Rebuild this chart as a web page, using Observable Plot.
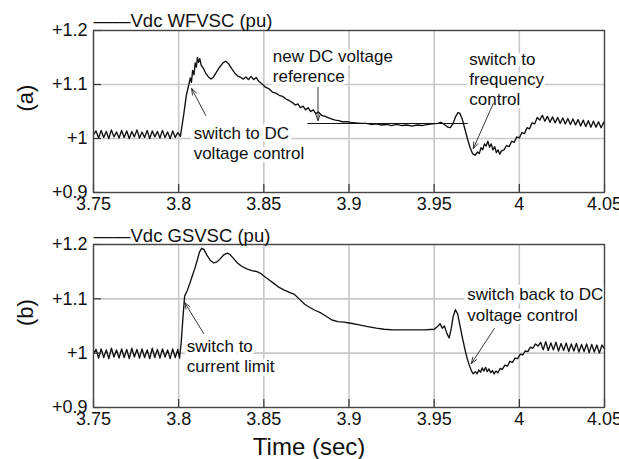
<!DOCTYPE html>
<html><head><meta charset="utf-8">
<script src="https://cdn.jsdelivr.net/npm/d3@7"></script>
<script src="https://cdn.jsdelivr.net/npm/@observablehq/plot@0.6"></script>
<style>
body{margin:0;background:#fff;}
#wrap{position:relative;width:619px;height:459px;overflow:hidden;background:#fff;}
#wrap svg{position:absolute;left:0;}
</style></head><body><div id="wrap"></div>
<script>
// ---- data (time in s, voltage in pu) ----
const xTicks = [3.75, 3.8, 3.85, 3.9, 3.95, 4, 4.05];
const yTicks = [0.9, 1.0, 1.1, 1.2];
const xLabel = "Time (sec)";

const wfLabel = "——Vdc WFVSC (pu)";
const wfTag = "(a)";
const wfVoltage = [
 [3.7500,1.007],[3.7515,1.014],[3.7530,1.001],[3.7545,1.015],[3.7560,1.002],[3.7575,1.013],[3.7590,1.000],[3.7605,1.016],[3.7620,1.003],[3.7635,1.012],[3.7650,1.001],[3.7665,1.015],[3.7680,1.002],[3.7695,1.014],[3.7710,1.000],[3.7725,1.013],[3.7740,1.003],[3.7755,1.016],[3.7770,1.001],[3.7785,1.012],[3.7800,1.002],[3.7815,1.015],[3.7830,1.000],[3.7845,1.014],[3.7860,1.003],[3.7875,1.013],[3.7890,1.001],[3.7905,1.015],[3.7920,1.002],[3.7935,1.012],[3.7950,1.000],[3.7965,1.014],[3.7980,1.002],[3.7995,1.011],[3.8010,1.004],
 [3.8030,1.045],[3.8045,1.080],[3.8060,1.100],[3.8068,1.112],[3.8075,1.104],[3.8082,1.126],[3.8090,1.118],[3.8097,1.140],[3.8104,1.132],[3.8110,1.150],[3.8117,1.141],[3.8124,1.148],[3.8132,1.136],[3.8145,1.130],[3.8160,1.120],[3.8175,1.114],[3.8190,1.110],[3.8205,1.114],[3.8220,1.122],[3.8240,1.132],[3.8260,1.140],[3.8276,1.143],[3.8292,1.139],[3.8310,1.130],[3.8330,1.121],[3.8350,1.115],[3.8365,1.113],[3.8380,1.110],[3.8395,1.114],[3.8410,1.109],[3.8425,1.115],[3.8440,1.109],[3.8455,1.113],[3.8470,1.106],[3.8490,1.101],[3.8510,1.095],[3.8530,1.092],[3.8550,1.086],[3.8570,1.084],[3.8590,1.080],[3.8610,1.078],[3.8630,1.073],[3.8650,1.070],[3.8670,1.066],[3.8685,1.062],[3.8700,1.064],[3.8715,1.057],[3.8730,1.060],[3.8745,1.053],[3.8760,1.057],[3.8775,1.050],[3.8790,1.053],[3.8805,1.046],[3.8820,1.049],[3.8840,1.043],[3.8860,1.041],[3.8880,1.038],[3.8900,1.036],[3.8920,1.034],[3.8940,1.033],[3.8960,1.031],[3.8990,1.031],[3.9010,1.030],[3.9040,1.029],[3.9070,1.028],[3.9100,1.028],[3.9130,1.026],[3.9160,1.027],[3.9190,1.025],[3.9220,1.026],[3.9250,1.024],[3.9280,1.026],[3.9310,1.024],[3.9340,1.025],[3.9370,1.023],[3.9400,1.025],[3.9430,1.024],[3.9460,1.026],
 [3.9490,1.027],[3.9520,1.028],[3.9540,1.030],[3.9560,1.026],[3.9580,1.021],[3.9595,1.020],[3.9610,1.027],[3.9625,1.040],[3.9640,1.048],[3.9650,1.047],[3.9665,1.036],[3.9680,1.018],[3.9695,1.000],[3.9710,0.984],[3.9725,0.972],[3.9740,0.969],[3.9755,0.975],[3.9765,0.972],[3.9775,0.983],[3.9785,0.979],[3.9795,0.990],[3.9805,0.986],[3.9815,0.995],[3.9825,0.984],[3.9835,0.990],[3.9845,0.979],[3.9855,0.985],[3.9865,0.974],[3.9875,0.979],[3.9885,0.971],[3.9895,0.977],[3.9910,0.979],[3.9925,0.987],[3.9940,0.985],[3.9955,0.995],[3.9970,0.993],[3.9985,1.003],[4.0000,1.001],[4.0015,1.011],[4.0030,1.009],[4.0045,1.020],[4.0060,1.018],[4.0075,1.029],[4.0090,1.027],[4.0105,1.039],[4.0120,1.034],
 [4.0135,1.043],[4.0150,1.032],[4.0165,1.041],[4.0180,1.030],[4.0195,1.040],[4.0210,1.029],[4.0225,1.039],[4.0240,1.028],[4.0255,1.038],[4.0270,1.027],[4.0285,1.037],[4.0300,1.026],[4.0315,1.036],[4.0330,1.025],[4.0345,1.035],[4.0360,1.023],[4.0375,1.034],[4.0390,1.022],[4.0405,1.033],[4.0420,1.021],[4.0435,1.032],[4.0450,1.021],[4.0465,1.031],[4.0480,1.020],[4.0495,1.030],[4.0500,1.026]
];
const wfNotes = [
 {x: 3.8088, y: 0.9926, text: "switch to DC\nvoltage control"},
 {x: 3.8553, y: 1.1352, text: "new DC voltage\nreference"},
 {x: 3.9706, y: 1.1111, text: "switch to\nfrequency\ncontrol"}
];
const wfArrows = [
 {x1: 3.8159, y1: 1.0426, x2: 3.8076, y2: 1.0926},
 {x1: 3.8818, y1: 1.0944, x2: 3.8818, y2: 1.0333},
 {x1: 3.9847, y1: 1.0648, x2: 3.9730, y2: 0.9815}
];
const wfReference = [{x1: 3.8759, x2: 3.9700, y: 1.0278}];

const gsLabel = "——Vdc GSVSC (pu)";
const gsTag = "(b)";
const gsVoltage = [
 [3.7500,0.999],[3.7515,1.007],[3.7530,0.991],[3.7545,1.008],[3.7560,0.992],[3.7575,1.006],[3.7590,0.990],[3.7605,1.009],[3.7620,0.993],[3.7635,1.006],[3.7650,0.991],[3.7665,1.008],[3.7680,0.992],[3.7695,1.007],[3.7710,0.990],[3.7725,1.009],[3.7740,0.993],[3.7755,1.007],[3.7770,0.991],[3.7785,1.008],[3.7800,0.992],[3.7815,1.006],[3.7830,0.990],[3.7845,1.009],[3.7860,0.992],[3.7875,1.007],[3.7890,0.991],[3.7905,1.008],[3.7920,0.993],[3.7935,1.006],[3.7950,0.990],[3.7965,1.008],[3.7980,0.992],[3.7995,1.007],[3.8005,0.991],
 [3.8015,1.020],[3.8025,1.065],[3.8035,1.105],[3.8050,1.115],[3.8065,1.128],[3.8080,1.142],[3.8095,1.156],[3.8110,1.172],[3.8122,1.186],[3.8135,1.193],[3.8148,1.191],[3.8165,1.181],[3.8185,1.171],[3.8206,1.166],[3.8225,1.168],[3.8245,1.174],[3.8265,1.181],[3.8285,1.184],[3.8300,1.182],[3.8320,1.175],[3.8345,1.166],[3.8370,1.160],[3.8400,1.155],[3.8430,1.152],[3.8460,1.150],[3.8480,1.147],[3.8500,1.142],[3.8530,1.135],[3.8560,1.128],[3.8590,1.121],[3.8620,1.116],[3.8650,1.112],[3.8680,1.108],[3.8710,1.099],[3.8740,1.090],[3.8770,1.084],[3.8800,1.079],[3.8835,1.074],[3.8870,1.067],[3.8900,1.061],[3.8935,1.058],[3.8970,1.057],[3.9010,1.055],[3.9060,1.052],[3.9110,1.049],[3.9160,1.046],[3.9206,1.044],[3.9260,1.043],[3.9320,1.043],[3.9380,1.043],[3.9440,1.043],[3.9500,1.044],
 [3.9520,1.049],[3.9535,1.054],[3.9548,1.046],[3.9560,1.050],[3.9575,1.036],[3.9588,1.028],[3.9600,1.045],[3.9612,1.068],[3.9625,1.080],[3.9638,1.072],[3.9652,1.050],[3.9666,1.028],[3.9680,1.008],[3.9694,0.990],[3.9706,0.978],[3.9718,0.968],[3.9730,0.962],[3.9742,0.966],[3.9752,0.962],[3.9762,0.969],[3.9772,0.965],[3.9782,0.973],[3.9792,0.967],[3.9802,0.974],[3.9812,0.966],[3.9822,0.971],[3.9832,0.964],[3.9842,0.968],[3.9852,0.962],[3.9862,0.967],[3.9874,0.964],[3.9888,0.972],[3.9900,0.970],[3.9915,0.978],[3.9930,0.976],[3.9945,0.985],[3.9960,0.983],[3.9975,0.991],[3.9990,0.990],[4.0005,0.998],[4.0020,0.997],[4.0035,1.004],[4.0050,1.003],[4.0065,1.011],[4.0080,1.009],[4.0095,1.017],[4.0110,1.013],
 [4.0125,1.020],[4.0140,1.006],[4.0155,1.021],[4.0170,1.005],[4.0185,1.019],[4.0200,1.006],[4.0215,1.020],[4.0230,1.004],[4.0245,1.018],[4.0260,1.005],[4.0275,1.019],[4.0290,1.003],[4.0305,1.017],[4.0320,1.004],[4.0335,1.018],[4.0350,1.002],[4.0365,1.016],[4.0380,1.003],[4.0395,1.017],[4.0410,1.001],[4.0425,1.016],[4.0440,1.002],[4.0455,1.015],[4.0470,1.000],[4.0485,1.015],[4.0500,1.008]
];
const gsNotes = [
 {x: 3.8047, y: 0.9956, text: "switch to\ncurrent limit"},
 {x: 3.9694, y: 1.0904, text: "switch back to DC\nvoltage control"}
];
const gsArrows = [
 {x1: 3.8147, y1: 1.0361, x2: 3.8035, y2: 1.0932},
 {x1: 3.9853, y1: 1.0453, x2: 3.9718, y2: 0.9808}
];

// ---- drawing ----
const FONT = "'Liberation Sans', Arial, Helvetica, sans-serif";
const W = 619, ML = 93, MR = 15;
const xDom = [xTicks[0], xTicks[xTicks.length - 1]];
const yDom = [yTicks[0], yTicks[yTicks.length - 1]];

function panel({series, label, tag, notes, arrows, reference = [], height, marginBottom, labelDy, withXLabel}) {
  const plotH = height - 30 - marginBottom;
  const tickX = (xDom[1] - xDom[0]) * 8 / (W - ML - MR);
  const tickY = (yDom[1] - yDom[0]) * 8 / plotH;
  const marks = [
    Plot.ruleX(xTicks, {stroke: "#c8c8c8", strokeWidth: 1.6}),
    Plot.ruleY(yTicks, {stroke: "#c8c8c8", strokeWidth: 1.6}),
    Plot.line(series, {x: d => d[0], y: d => d[1], stroke: "#111", strokeWidth: 1.35}),
    Plot.ruleY(reference, {x1: "x1", x2: "x2", y: "y", stroke: "#111", strokeWidth: 1}),
    Plot.text(notes, {x: "x", y: "y", text: "text", textAnchor: "start", lineAnchor: "middle", lineHeight: 1.2, fontSize: 17, fill: "#111", stroke: "white", strokeWidth: 7}),
    Plot.arrow(arrows, {x1: "x1", y1: "y1", x2: "x2", y2: "y2", stroke: "#222", strokeWidth: 0.9, headLength: 11, headAngle: 40}),
    Plot.ruleY(yTicks, {x1: xDom[0], x2: xDom[0] + tickX, stroke: "#333", strokeWidth: 1.2}),
    Plot.ruleX(xTicks, {y1: yDom[0], y2: yDom[0] + tickY, stroke: "#333", strokeWidth: 1.2}),
    Plot.frame({stroke: "#444", strokeWidth: 1.3}),
    Plot.axisX(xTicks, {tickSize: 0, tickPadding: 5, fontSize: 18, label: null, tickFormat: d => String(+d.toFixed(2))}),
    Plot.axisY(yTicks, {tickSize: 0, tickPadding: 6, fontSize: 18, label: null, tickFormat: d => "+" + (+d.toFixed(1))}),
    Plot.text([label], {frameAnchor: "top-left", dy: labelDy, text: d => d, textAnchor: "start", lineAnchor: "middle", fontSize: 18.5, fill: "#111"}),
    Plot.text([tag], {frameAnchor: "left", dx: -68, text: d => d, rotate: -90, fontSize: 22, fill: "#111"})
  ];
  if (withXLabel) {
    marks.push(Plot.text([xLabel], {frameAnchor: "bottom", dx: -40, dy: 40, text: d => d, lineAnchor: "middle", fontSize: 24, fill: "#111"}));
  }
  return Plot.plot({
    width: W, height, marginLeft: ML, marginRight: MR, marginTop: 30, marginBottom,
    style: {fontFamily: FONT, fontSize: "17px", background: "white", overflow: "visible", color: "#111"},
    x: {domain: xDom},
    y: {domain: yDom},
    marks
  });
}

const wrap = document.getElementById("wrap");
const topPanel = panel({series: wfVoltage, label: wfLabel, tag: wfTag, notes: wfNotes, arrows: wfArrows, reference: wfReference, height: 214, marginBottom: 22, labelDy: -9, withXLabel: false});
topPanel.style.top = "0px";
const bottomPanel = panel({series: gsVoltage, label: gsLabel, tag: gsTag, notes: gsNotes, arrows: gsArrows, height: 245, marginBottom: 52, labelDy: -8, withXLabel: true});
bottomPanel.style.top = "214px";
wrap.appendChild(topPanel);
wrap.appendChild(bottomPanel);
</script>
</body></html>
